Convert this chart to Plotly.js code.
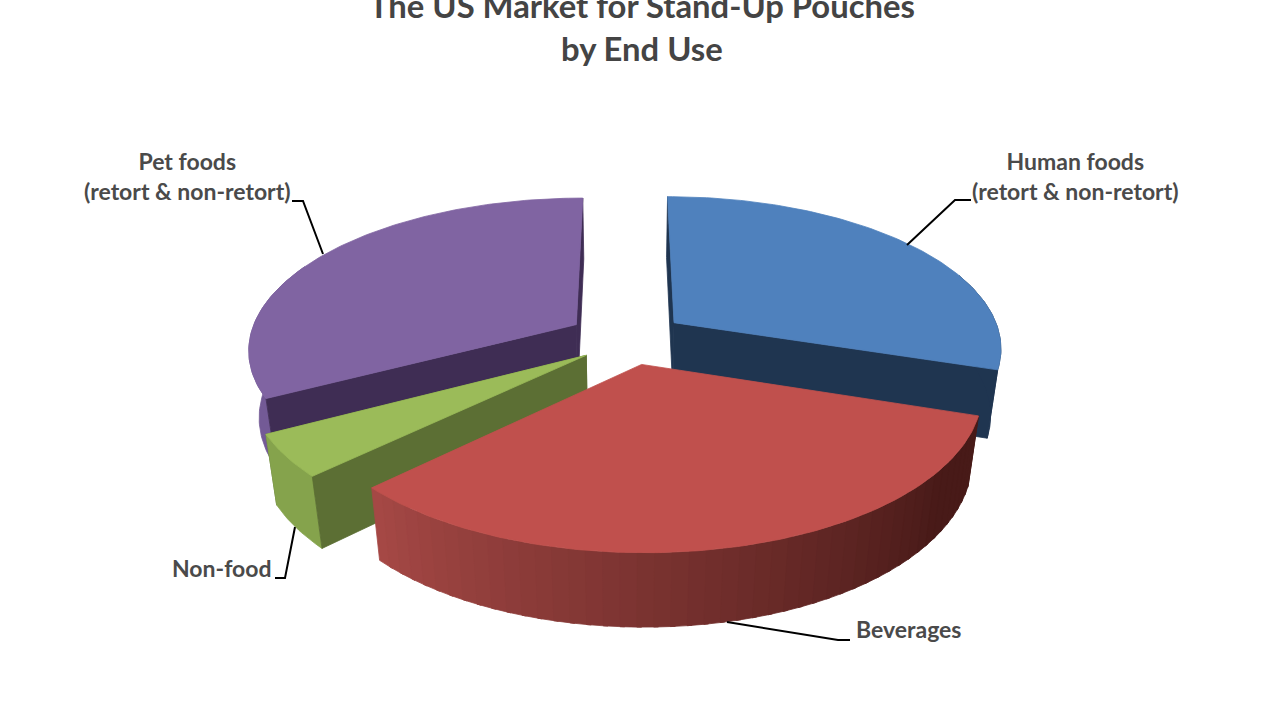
<!DOCTYPE html>
<html><head><meta charset="utf-8">
<script src="https://cdn.plot.ly/plotly-3.0.1.min.js"></script>
<style>html,body{margin:0;padding:0;background:#fff}</style></head>
<body><div id="chart" style="width:1280px;height:720px"></div>
<script>
const categories = ["Human foods", "Beverages", "Non-food", "Pet foods"];
const shares = [30, 32.8, 4.4, 32.8];
const pulls = [0.176, 0.176, 0.15, 0.176];
const nudgeU = [0.01, 0.01, 0.005, 0];
const nudgeV = [0, 0, -0.025, 0];
const topColors = ["#4f81bd", "#c0504d", "#9bbb59", "#8064a2"];
const cutColors = ["#1f3550", "#4f1e1c", "#5c6f34", "#3f2d54"];
const rimColors = ["#1f3550", "#4f1e1c", "#85a34c", "#735a96"];

const titleText = "The US Market for Stand-Up Pouches<br>by End Use";
const labelTexts = ["Human foods<br>(retort &amp; non-retort)", "Beverages", "Non-food", "Pet foods<br>(retort &amp; non-retort)"];

const cam = {cx:625, cy:338, Rx:327, Ry:150, k:0.155, m:0.028, D:69};
const rad = d => d*Math.PI/180;
function proj(u,v,z){
  const w = 1 + cam.k*v + cam.m*z;
  return [cam.cx + cam.Rx*u/w, cam.cy - (cam.Ry*v - cam.D*z)/w];
}
const total = shares.reduce((a,b)=>a+b,0);
let acc = 0;
const slices = shares.map((s,i)=>{
  const a0 = acc/total*360; acc += s; const a1 = acc/total*360;
  const b = rad((a0+a1)/2);
  return {i,a0,a1,ou:pulls[i]*Math.sin(b)+nudgeU[i],ov:pulls[i]*Math.cos(b)+nudgeV[i]};
});
function rimPt(sl,a,z){const t=rad(a);return proj(Math.sin(t)+sl.ou,Math.cos(t)+sl.ov,z);}
function apex(sl,z){return proj(sl.ou,sl.ov,z);}
function arc(from,to){
  const out=[]; const n=Math.max(1,Math.ceil((to-from)));
  for(let j=0;j<=n;j++) out.push(from+(to-from)*j/n);
  return out;
}
function poly(pts,color){
  const xs=pts.map(p=>p[0]), ys=pts.map(p=>p[1]);
  xs.push(xs[0]); ys.push(ys[0]);
  return {type:"scatter",mode:"lines",x:xs,y:ys,fill:"toself",fillcolor:color,
          line:{color:color,width:0.8},hoverinfo:"skip",showlegend:false};
}
function topFace(sl){
  return poly([apex(sl,0)].concat(arc(sl.a0,sl.a1).map(a=>rimPt(sl,a,0))),topColors[sl.i]);
}
function cutWall(sl,a){
  return poly([apex(sl,0),rimPt(sl,a,0),rimPt(sl,a,1),apex(sl,1)],cutColors[sl.i]);
}
function rimWall(sl,from,to,color){
  const as=arc(from,to);
  return poly(as.map(a=>rimPt(sl,a,0)).concat(as.slice().reverse().map(a=>rimPt(sl,a,1))),color);
}
function mix(c1,c2,t){return "rgb("+c1.map((c,i)=>Math.round(c+(c2[i]-c)*t)).join(",")+")";}

const traces=[];
const [hum,bev,non,pet]=slices;
traces.push(cutWall(hum,hum.a0), cutWall(hum,hum.a1), rimWall(hum,Math.max(hum.a0,70),hum.a1,rimColors[0]), topFace(hum));
traces.push(cutWall(pet,pet.a1), rimWall(pet,pet.a0,295,rimColors[3]), cutWall(pet,pet.a0), topFace(pet));
traces.push(cutWall(non,non.a1), rimWall(non,non.a0,non.a1,rimColors[2]), cutWall(non,non.a0), topFace(non));
const step=2.5, dark=[72,26,24], light=[165,72,69];
for(let a=bev.a1;a>bev.a0;a-=step){
  const lo=Math.max(a-step-0.7,bev.a0);
  const t=(bev.a1-a)/(bev.a1-bev.a0);
  traces.push(rimWall(bev,lo,a,mix(light,dark,Math.min(1,t*1.2))));
}
traces.push(topFace(bev));

const leaders=[
 "M971,200 L955,200 L907,245",
 "M850,640 L838,640 L727,622",
 "M275,578 L285,578 L295,527",
 "M292,201 L303,201 L323,254"
];
const labelPos=[[1075,176],[908,629],[222,568],[187,176]];
const layout={
  width:1280,height:720,margin:{l:0,r:0,t:0,b:0,pad:0},
  paper_bgcolor:"#fff",plot_bgcolor:"#fff",showlegend:false,
  title:{text:titleText,x:0.5015,xanchor:"center",y:0.975,yanchor:"top",
         font:{family:"Lato",size:32.8,color:"#444",weight:700}},
  xaxis:{range:[0,1280],visible:false,fixedrange:true},
  yaxis:{range:[720,0],visible:false,fixedrange:true},
  shapes:leaders.map(p=>({type:"path",path:p,line:{color:"#000",width:2}})),
  annotations:categories.map((c,i)=>({x:labelPos[i][0],y:labelPos[i][1],text:labelTexts[i],showarrow:false,
    xanchor:"center",yanchor:"middle",align:"center",
    font:{family:"Lato",size:23,color:"#4a4a4a",weight:700}}))
};
Plotly.newPlot("chart",traces,layout,{displayModeBar:false,staticPlot:true});
</script></body></html>
